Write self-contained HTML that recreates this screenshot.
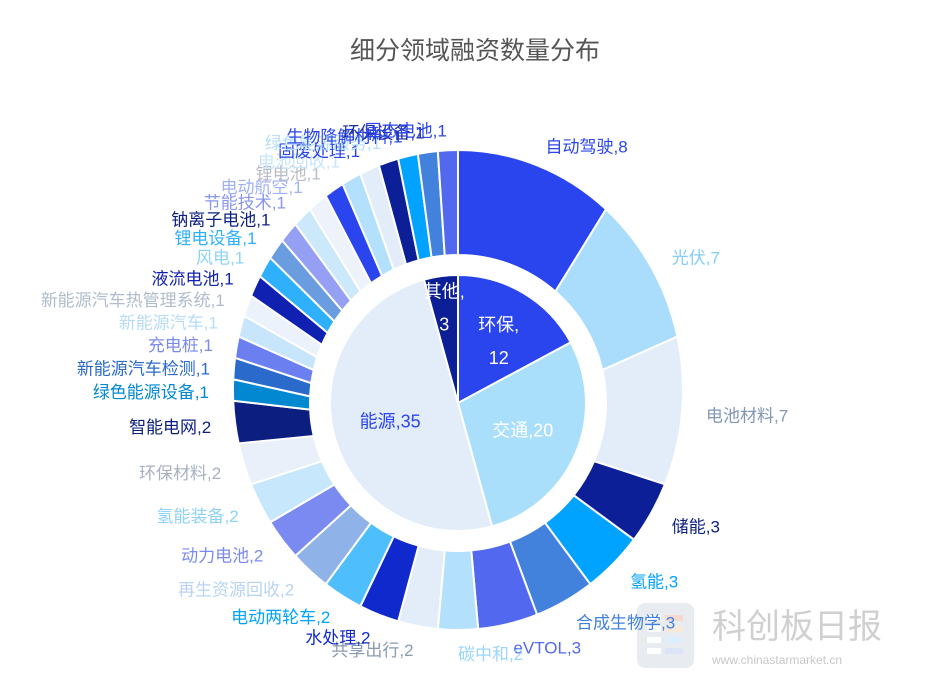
<!DOCTYPE html>
<html><head><meta charset="utf-8"><style>
body{margin:0;background:#fff;}
svg{display:block;font-family:"Liberation Sans","Noto Sans CJK SC",sans-serif;}
</style></head><body>
<svg id="c" width="945" height="694">
<text x="475" y="59" text-anchor="middle" font-size="25" fill="#555">细分领域融资数量分布</text>
<g>
<rect x="637" y="603" width="57" height="65" rx="8" fill="#e8ecf0"/>
<rect x="647" y="615" width="14" height="6" fill="#fff"/><rect x="647" y="626" width="14" height="6" fill="#fff"/><rect x="647" y="637" width="14" height="6" fill="#fff"/><rect x="647" y="648" width="14" height="6" fill="#fff"/>
<rect x="665" y="615" width="18" height="6" fill="#f6d8d0"/><rect x="665" y="626" width="18" height="6" fill="#f8ead8"/><rect x="665" y="637" width="18" height="6" fill="#dbeefa"/><rect x="665" y="648" width="18" height="6" fill="#dde4f6"/>
<text x="712" y="638" font-size="34" fill="#d0d0d0">科创板日报</text>
<text x="712" y="664" font-size="12" fill="#c8c8c8">www.chinastarmarket.cn</text>
</g>
<g id="pies"></g>
</svg>
<script>
const innerCats=["环保","交通","能源","其他"];
const innerVals=[12,20,35,3];
const outerCats=["自动驾驶","光伏","电池材料","储能","氢能","合成生物学","eVTOL","碳中和","共享出行","水处理","电动两轮车","再生资源回收","动力电池","氢能装备","环保材料","智能电网","绿色能源设备","新能源汽车检测","充电桩","新能源汽车","新能源汽车热管理系统","液流电池","风电","锂电设备","钠离子电池","节能技术","电动航空","锂电池","电池回收","固废处理","绿色能源服务","生物降解材料","环保设备","固态电池"];
const outerVals=[8,7,7,3,3,3,3,2,2,2,2,2,2,2,2,2,1,1,1,1,1,1,1,1,1,1,1,1,1,1,1,1,1,1];
const innerColors=["#2b45ee","#aadffc","#e3edf9","#0c1f96"];
const outerColors=["#2b45ee","#aadcfc","#e3edf9","#0c1f96","#00a3ff","#4281dc","#5268ee","#b3e0fc","#e3edf9","#0f29cc","#4fbefc","#8fb3e8","#7b8af0","#c6e7fc","#eaf0fa","#0c1f80","#0288d1","#2a6acb","#6b7ff0","#c8e6fb","#ebf2fb","#1020b0","#2fb0fc","#6a9ce0","#95a0f5","#cce8fb","#eef3fb","#2b45ee","#b3e0fc","#e3edf9","#0c1f96","#00a3ff","#4281dc","#5268ee"];
const outerLabelColors=["#2b45ee","#86cdf6","#8197b4","#0c1f80","#00a3ff","#4281dc","#5268ee","#9ad6fa","#8a9bb0","#0f29cc","#00a3ff","#b8d4f0","#7b8af0","#8ed2f8","#a8b0c0","#0c1f80","#0288d1","#2a6acb","#7b8af0","#b8dcf6","#b0bccc","#1020b0","#8ed2f8","#2fb0fc","#0c1f80","#8a96ee","#a0b0f6","#b8bcc8","#c8e6fb","#2b45ee","#b3e0fc","#2b45ee","#1c2fa0","#2b45ee"];
const NS="http://www.w3.org/2000/svg";
const g=document.getElementById("pies");
const OC=[458,390],ORX=225,ORY=240;
const IC=[458,403],R_RING=148,R_PIE=128;
function ept(c,rx,ry,a){return [c[0]+rx*Math.sin(a),c[1]-ry*Math.cos(a)];}
function ringPath(a0,a1){
  const large=(a1-a0)>Math.PI?1:0;
  const p1=ept(OC,ORX,ORY,a0),p2=ept(OC,ORX,ORY,a1);
  const p3=ept(IC,R_RING,R_RING,a1),p4=ept(IC,R_RING,R_RING,a0);
  return `M${p1}A${ORX},${ORY} 0 ${large} 1 ${p2}L${p3}A${R_RING},${R_RING} 0 ${large} 0 ${p4}Z`;
}
function piePath(a0,a1){
  const large=(a1-a0)>Math.PI?1:0;
  const p1=ept(IC,R_PIE,R_PIE,a0),p2=ept(IC,R_PIE,R_PIE,a1);
  return `M${IC}L${p1}A${R_PIE},${R_PIE} 0 ${large} 1 ${p2}Z`;
}
function mk(tag){return document.createElementNS(NS,tag);}
(function(){
  const tot=outerVals.reduce((a,b)=>a+b,0);let acc=0;
  outerCats.forEach((c,i)=>{
    const a0=acc/tot*2*Math.PI;acc+=outerVals[i];const a1=acc/tot*2*Math.PI;
    const p=mk("path");
    p.setAttribute("d",ringPath(a0,a1));
    p.setAttribute("fill",outerColors[i]);p.setAttribute("stroke","#fff");p.setAttribute("stroke-width","2");
    
    
    g.appendChild(p);
    const am=(a0+a1)/2;
    const q=ept(OC,ORX+24,ORY+22,am);
    const t=mk("text");
    t.setAttribute("font-size","17");
    t.setAttribute("x",q[0]);t.setAttribute("y",q[1]+8);
    t.setAttribute("text-anchor",Math.sin(am)>=0?"start":"end");
    t.setAttribute("fill",outerLabelColors[i]);
    t.textContent=c+","+outerVals[i];
    
    
    g.appendChild(t);
  });
})();
(function(){
  const tot=innerVals.reduce((a,b)=>a+b,0);let acc=0;
  innerCats.forEach((c,i)=>{
    const a0=acc/tot*2*Math.PI;acc+=innerVals[i];const a1=acc/tot*2*Math.PI;
    const p=mk("path");
    p.setAttribute("d",piePath(a0,a1));
    p.setAttribute("fill",innerColors[i]);p.setAttribute("stroke","#fff");p.setAttribute("stroke-width","2");
    
    
    g.appendChild(p);
    const am=(a0+a1)/2;
    const small=(a1-a0)<1.2;
    const rf=(a1-a0)<0.5?0.8:(small?0.62:0.55);
    const q=ept(IC,R_PIE*rf,R_PIE*rf,am);
    const t=mk("text");
    t.setAttribute("font-size","18");
    t.setAttribute("text-anchor","middle");
    t.setAttribute("fill",c==="能源"?"#2b45ee":"#fff");
    if(small){
      t.setAttribute("x",q[0]);t.setAttribute("y",q[1]-4);
      t.textContent=c+",";
      const t2=mk("tspan");t2.setAttribute("x",q[0]);t2.setAttribute("dy","33");t2.textContent=innerVals[i];
      t.appendChild(t2);
    }else{
      t.setAttribute("x",q[0]);t.setAttribute("y",q[1]+6);
      t.textContent=c+","+innerVals[i];
    }
    
    
    g.appendChild(t);
  });
})();
</script>
</body></html>
